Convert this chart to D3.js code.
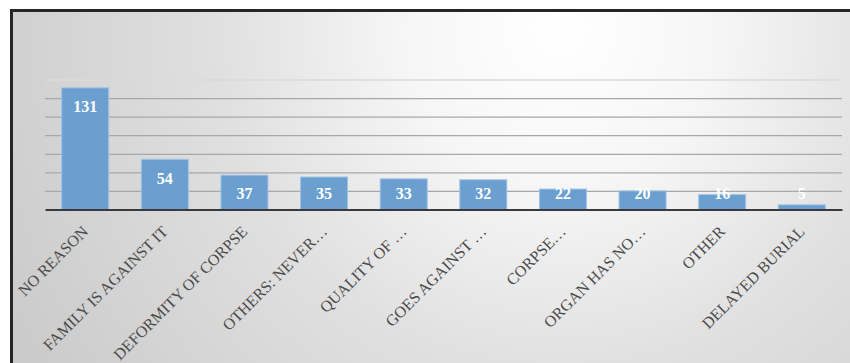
<!DOCTYPE html>
<html>
<head>
<meta charset="utf-8">
<script src="https://cdn.jsdelivr.net/npm/d3@7"></script>
<style>
  html, body { margin: 0; padding: 0; background: #fff; }
  svg { display: block; }
</style>
</head>
<body>
<svg width="850" height="363"></svg>
<script>

  // DATA

  var reasons = ["NO REASON", "FAMILY IS AGAINST IT", "DEFORMITY OF CORPSE", "OTHERS: NEVER\u2026",
    "QUALITY OF \u2026", "GOES AGAINST \u2026", "CORPSE\u2026", "ORGAN HAS NO\u2026", "OTHER", "DELAYED BURIAL"];
  var counts = [131, 54, 37, 35, 33, 32, 22, 20, 16, 5];
  var gridTicks = [20, 40, 60, 80, 100, 120, 140];

  // SETUP

  var svg = d3.select("svg"),
    width = 850,
    height = 363,
    margin = { top: 79.5, right: 8, bottom: 153.5, left: 45 },
    innerW = width - margin.left - margin.right,
    innerH = height - margin.top - margin.bottom;

  var defs = svg.append("defs");
  var bg = defs.append("radialGradient")
    .attr("id", "bg")
    .attr("gradientUnits", "userSpaceOnUse")
    .attr("cx", 560).attr("cy", 30).attr("r", 620);
  bg.append("stop").attr("offset", 0).attr("stop-color", "#ffffff");
  bg.append("stop").attr("offset", 0.25).attr("stop-color", "#f6f6f6");
  bg.append("stop").attr("offset", 0.55).attr("stop-color", "#e0e0e0");
  bg.append("stop").attr("offset", 1).attr("stop-color", "#cbcbcb");

  svg.append("rect")
    .attr("x", 0).attr("y", 0)
    .attr("width", width).attr("height", height)
    .attr("fill", "#fff");

  svg.append("rect")
    .attr("x", 11.5).attr("y", 10.5)
    .attr("width", 900).attr("height", 400)
    .attr("fill", "url(#bg)")
    .attr("stroke", "#262626")
    .attr("stroke-width", 3);

  var x = d3.scaleBand()
    .domain(reasons)
    .range([0, innerW])
    .paddingInner(0.41)
    .paddingOuter(0.21);

  var y = d3.scaleLinear()
    .domain([0, 140])
    .range([innerH, 0]);

  var g = svg.append("g")
    .attr("transform", "translate(" + margin.left + "," + margin.top + ")");

  // gridlines
  g.append("g")
    .attr("class", "grid")
    .call(d3.axisLeft(y).tickValues(gridTicks).tickSize(-innerW).tickFormat(""))
    .call(function (s) {
      s.select(".domain").remove();
      s.selectAll(".tick line")
        .attr("stroke", function (d) { return d === 140 ? "#dadada" : "#a8a8a8"; })
        .attr("stroke-width", 1.3);
    });

  // bars
  g.selectAll(".bar")
    .data(counts)
    .enter().append("rect")
    .attr("class", "bar")
    .attr("x", function (d, i) { return x(reasons[i]); })
    .attr("y", function (d) { return y(d); })
    .attr("width", x.bandwidth())
    .attr("height", function (d) { return innerH - y(d); })
    .attr("fill", "#6a9fd0")
    .attr("stroke", "#9fc2e6")
    .attr("stroke-width", 1);

  // value labels
  g.selectAll(".val")
    .data(counts)
    .enter().append("text")
    .attr("class", "val")
    .attr("x", function (d, i) { return x(reasons[i]) + x.bandwidth() / 2; })
    .attr("y", function (d) { return Math.min(y(d) + 19, innerH - 16); })
    .attr("dy", "0.35em")
    .attr("text-anchor", "middle")
    .attr("fill", "#ffffff")
    .attr("font-family", "'Liberation Serif', 'Times New Roman', serif")
    .attr("font-weight", "bold")
    .attr("font-size", "16px")
    .text(function (d) { return d; });

  // x axis
  var xAxis = g.append("g")
    .attr("class", "axis axis--x")
    .attr("transform", "translate(0," + innerH + ")")
    .call(d3.axisBottom(x).tickSize(0).tickPadding(0));

  xAxis.select(".domain")
    .attr("stroke", "#3a3a3a")
    .attr("stroke-width", 2);

  xAxis.selectAll(".tick text")
    .attr("transform", "translate(0,19) rotate(-45)")
    .attr("x", 0)
    .attr("y", 0)
    .attr("dy", "0.35em")
    .attr("text-anchor", "end")
    .attr("fill", "#4a4a4a")
    .attr("font-family", "'Liberation Serif', 'Times New Roman', serif")
    .attr("font-size", "16px");

</script>
</body>
</html>
